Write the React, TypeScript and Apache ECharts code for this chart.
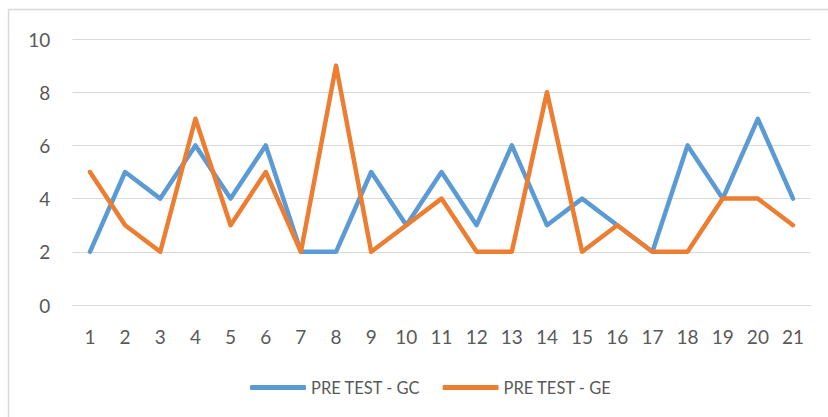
import React, { useEffect, useRef } from "react";
import * as echarts from "echarts";

const categories = ["1","2","3","4","5","6","7","8","9","10","11","12","13","14","15","16","17","18","19","20","21"];
const seriesGC = [2,5,4,6,4,6,2,2,5,3,5,3,6,3,4,3,2,6,4,7,4];
const seriesGE = [5,3,2,7,3,5,2,9,2,3,4,2,2,8,2,3,2,2,4,4,3];
const seriesNames = ["PRE TEST - GC", "PRE TEST - GE"];

export default function App() {
  const ref = useRef<HTMLDivElement>(null);
  useEffect(() => {
    document.body.style.margin = "0";
    document.body.style.overflow = "hidden";
    const chart = echarts.init(ref.current!, undefined, { renderer: "svg" });
    const font = "Lato, 'Open Sans', sans-serif";
    chart.setOption({
      animation: false,
      backgroundColor: "#ffffff",
      textStyle: { fontFamily: font },
      graphic: [
        {
          type: "rect",
          shape: { x: 8.5, y: 9.5, width: 900, height: 500 },
          style: { fill: "none", stroke: "#d9d9d9", lineWidth: 1.5 },
          silent: true,
        },
      ],
      grid: { left: 72.4, right: 17.4, top: 39, bottom: 112 },
      legend: {
        left: 245,
        top: 374,
        icon: "roundRect",
        itemWidth: 56,
        itemHeight: 5,
        itemGap: 22,
        textStyle: { fontSize: 16.5, color: "#595959", fontFamily: font },
        data: seriesNames,
      },
      xAxis: {
        type: "category",
        data: categories,
        boundaryGap: true,
        axisLine: { show: true, lineStyle: { color: "#d9d9d9", width: 1 } },
        axisTick: { show: false },
        axisLabel: { color: "#595959", fontSize: 19, margin: 22, fontFamily: font },
      },
      yAxis: {
        type: "value",
        min: 0,
        max: 10,
        interval: 2,
        axisLine: { show: false },
        axisTick: { show: false },
        splitLine: { lineStyle: { color: "#d9d9d9", width: 1 } },
        axisLabel: { color: "#595959", fontSize: 19, margin: 22, fontFamily: font },
      },
      series: [
        {
          name: seriesNames[0],
          type: "line",
          data: seriesGC,
          showSymbol: false,
          symbol: "none",
          color: "#5B9BD5",
          lineStyle: { width: 4.5, color: "#5B9BD5", cap: "round", join: "round" },
        },
        {
          name: seriesNames[1],
          type: "line",
          data: seriesGE,
          showSymbol: false,
          symbol: "none",
          color: "#ED7D31",
          lineStyle: { width: 4.5, color: "#ED7D31", cap: "round", join: "round" },
        },
      ],
    });
    return () => chart.dispose();
  }, []);
  return <div ref={ref} style={{ position: "absolute", left: 0, top: 0, width: 828, height: 417 }} />;
}
